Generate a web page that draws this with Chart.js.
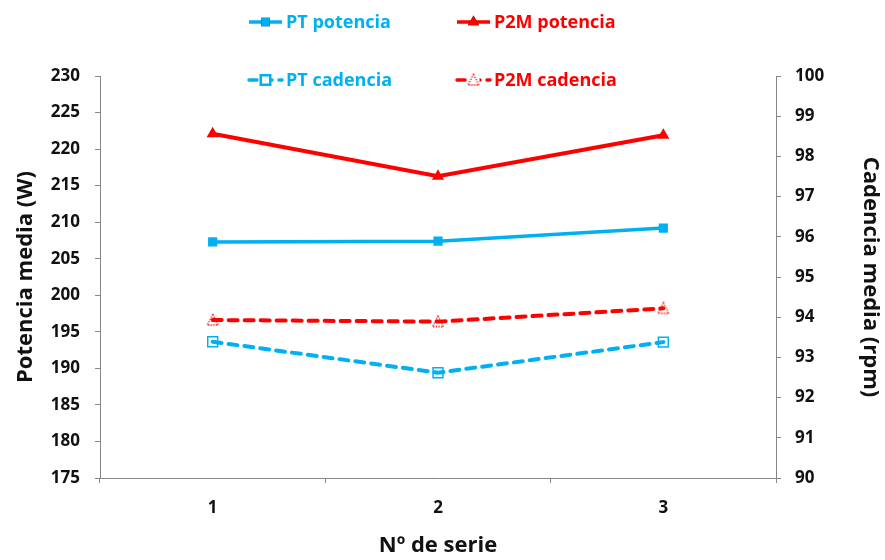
<!DOCTYPE html>
<html>
<head>
<meta charset="utf-8">
<script src="https://cdn.jsdelivr.net/npm/chart.js@4/dist/chart.umd.min.js"></script>
<style>
  html, body { margin: 0; padding: 0; background: #fff; }
  #wrap { width: 885px; height: 560px; }
</style>
</head>
<body>
<div id="wrap"><canvas id="c" width="885" height="560"></canvas></div>
<script>
// Series data
const categories = ['1', '2', '3'];
const ptPotencia = [207.3, 207.4, 209.2];
const p2mPotencia = [222.1, 216.3, 221.9];
const ptCadencia = [93.39, 92.62, 93.38];
const p2mCadencia = [93.93, 93.89, 94.22];

// Axis ranges
const potenciaRange = { min: 175, max: 230, step: 5 };
const cadenciaRange = { min: 90, max: 100, step: 1 };

const BLUE = '#00B0F0';
const RED = '#FF0000';
const FONT = '"Open Sans", "Liberation Sans", sans-serif';
const AXIS = '#868686';
const TEXT = '#111111';

// Open triangle marker with a dotted outline
function dottedTriangle(color) {
  const s = 14;
  const cv = document.createElement('canvas');
  cv.width = s; cv.height = s;
  const g = cv.getContext('2d');
  g.strokeStyle = color;
  g.lineWidth = 1.3;
  g.setLineDash([1.3, 1.3]);
  g.beginPath();
  g.moveTo(s / 2, 1.5);
  g.lineTo(s - 1.5, s - 2);
  g.lineTo(1.5, s - 2);
  g.closePath();
  g.stroke();
  return cv;
}
const triDotted = dottedTriangle(RED);

const datasets = [
  {
    label: 'PT potencia', data: ptPotencia, yAxisID: 'yP',
    borderColor: BLUE, backgroundColor: BLUE, borderWidth: 3.5,
    pointStyle: 'rect', pointRadius: 6.5, pointBackgroundColor: BLUE, pointBorderColor: BLUE, pointBorderWidth: 0
  },
  {
    label: 'P2M potencia', data: p2mPotencia, yAxisID: 'yP',
    borderColor: RED, backgroundColor: RED, borderWidth: 4,
    pointStyle: 'triangle', pointRadius: 7, pointBackgroundColor: RED, pointBorderColor: RED, pointBorderWidth: 0
  },
  {
    label: 'PT cadencia', data: ptCadencia, yAxisID: 'yC',
    borderColor: BLUE, backgroundColor: BLUE, borderWidth: 4, borderDash: [9, 7], borderCapStyle: 'round',
    pointStyle: 'rect', pointRadius: 7, pointBackgroundColor: 'rgba(0,0,0,0)', pointBorderColor: BLUE, pointBorderWidth: 1.5
  },
  {
    label: 'P2M cadencia', data: p2mCadencia, yAxisID: 'yC',
    borderColor: RED, backgroundColor: RED, borderWidth: 4, borderDash: [9, 7], borderCapStyle: 'round',
    pointStyle: triDotted, pointRadius: 7
  }
];

// Two-row legend drawn above the plot
const legendPositions = [
  { x: 249, y: 22 }, { x: 457, y: 22 }, { x: 249, y: 80 }, { x: 457, y: 80 }
];
const legendPlugin = {
  id: 'twoRowLegend',
  afterDraw(chart) {
    const ctx = chart.ctx;
    chart.data.datasets.forEach((ds, i) => {
      const p = legendPositions[i];
      ctx.save();
      ctx.strokeStyle = ds.borderColor;
      ctx.lineWidth = 3.5;
      if (ds.borderDash) { ctx.setLineDash([8, 7]); ctx.lineCap = 'round'; }
      ctx.beginPath();
      ctx.moveTo(p.x, p.y);
      ctx.lineTo(p.x + 33, p.y);
      ctx.stroke();
      ctx.setLineDash([]);
      const mx = p.x + 16.5;
      if (ds.pointStyle instanceof HTMLCanvasElement) {
        ctx.fillStyle = '#fff';
        ctx.fillRect(mx - 6, p.y - 6, 12, 12);
        ctx.drawImage(ds.pointStyle, mx - ds.pointStyle.width / 2, p.y - ds.pointStyle.height / 2);
      } else {
        Chart.helpers.drawPoint(ctx, {
          pointStyle: ds.pointStyle, radius: ds.pointStyle === 'rect' ? 6 : 6.5, rotation: 0,
          borderWidth: ds.pointBorderWidth
        }, mx, p.y);
        ctx.fillStyle = ds.pointBackgroundColor === 'rgba(0,0,0,0)' ? '#fff' : ds.pointBackgroundColor;
        ctx.strokeStyle = ds.pointBorderColor;
        ctx.lineWidth = ds.pointBorderWidth || 1;
        ctx.fill();
        if (ds.pointBorderWidth) ctx.stroke();
      }
      ctx.fillStyle = ds.borderColor;
      ctx.font = 'bold 18px ' + FONT;
      ctx.textBaseline = 'middle';
      ctx.textAlign = 'left';
      ctx.fillText(ds.label, p.x + 37, p.y + 1);
      ctx.restore();
    });
  }
};

const tickFont = { family: FONT, size: 17, weight: 'bold' };
const titleFont = { family: FONT, size: 22, weight: 'bold' };

new Chart(document.getElementById('c'), {
  type: 'line',
  data: { labels: categories, datasets },
  plugins: [legendPlugin],
  options: {
    responsive: false,
    animation: false,
    events: [],
    layout: { padding: { top: 76, left: 0, right: 0, bottom: 0 } },
    plugins: { legend: { display: false }, tooltip: { enabled: false } },
    scales: {
      x: {
        type: 'category',
        offset: true,
        grid: { offset: true, drawOnChartArea: false, drawTicks: true, tickLength: 5, color: AXIS },
        border: { display: true, color: AXIS, width: 1 },
        ticks: { color: TEXT, font: tickFont, padding: 15 },
        title: { display: true, text: 'Nº de serie', color: TEXT, font: titleFont, padding: { top: 0, bottom: 1 } },
        afterFit(s) { s.height = 82; }
      },
      yP: {
        position: 'left',
        min: potenciaRange.min, max: potenciaRange.max,
        grid: { drawOnChartArea: false, drawTicks: true, tickLength: 5, color: AXIS },
        border: { display: true, color: AXIS, width: 1 },
        ticks: { stepSize: potenciaRange.step, color: TEXT, font: tickFont, padding: 15 },
        title: { display: true, text: 'Potencia media (W)', color: TEXT, font: titleFont, padding: { top: 13, bottom: 0 } },
        afterFit(s) { s.width = 100; }
      },
      yC: {
        position: 'right',
        min: cadenciaRange.min, max: cadenciaRange.max,
        grid: { drawOnChartArea: false, drawTicks: true, tickLength: 5, color: AXIS },
        border: { display: true, color: AXIS, width: 1 },
        ticks: { stepSize: cadenciaRange.step, color: TEXT, font: tickFont, padding: 14 },
        title: { display: true, text: 'Cadencia media (rpm)', color: TEXT, font: titleFont, padding: { top: 2, bottom: 0 } },
        afterFit(s) { s.width = 109; }
      }
    }
  }
});
</script>
</body>
</html>
